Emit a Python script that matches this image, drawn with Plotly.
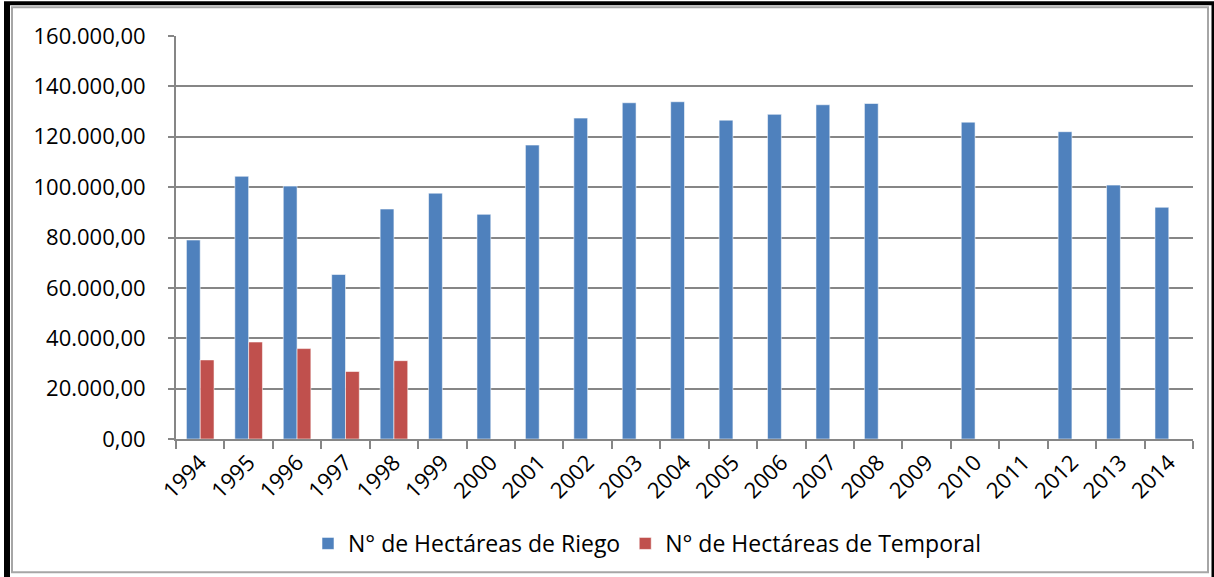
import plotly.graph_objects as go

# Data
years = [str(y) for y in range(1994, 2015)]
riego = [79000, 104300, 100400, 65300, 91300, 97600, 89200, 116700, 127400, 133500,
         133900, 126600, 128900, 132700, 133200, None, 125800, None, 122000, 100800, 92000]
temporal = [31400, 38500, 35900, 26800, 31100, None, None, None, None, None,
            None, None, None, None, None, None, None, None, None, None, None]

W, H = 1214, 577
ML, MR, MT, MB = 176, 21, 36, 136
PW, PH = W - ML - MR, H - MT - MB


def px(x):
    return (x - ML) / PW


def py(y):
    return (H - MB - y) / PH


FONT = "Open Sans"

fig = go.Figure()
fig.add_trace(go.Bar(
    x=years, y=riego, name="N° de Hectáreas de Riego",
    marker=dict(color="#4F81BD", line=dict(color="rgba(255,255,255,0.55)", width=1)),
))
fig.add_trace(go.Bar(
    x=years, y=temporal, name="N° de Hectáreas de Temporal",
    marker=dict(color="#C0504D", line=dict(color="rgba(255,255,255,0.55)", width=1)),
))

# frames around the chart
shapes = [
    dict(type="rect", xref="paper", yref="paper",
         x0=px(12), x1=px(1208), y0=py(575), y1=py(7),
         line=dict(color="#a6a6a6", width=2), layer="above"),
    dict(type="line", xref="paper", yref="paper",
         x0=px(7), x1=px(7), y0=py(3), y1=py(600),
         line=dict(color="black", width=6), layer="above"),
    dict(type="line", xref="paper", yref="paper",
         x0=px(4), x1=px(1220), y0=py(3), y1=py(3),
         line=dict(color="black", width=4), layer="above"),
    dict(type="line", xref="paper", yref="paper",
         x0=px(1213), x1=px(1213), y0=py(3), y1=py(600),
         line=dict(color="black", width=3), layer="above"),
]

fig.update_layout(
    width=W, height=H,
    margin=dict(l=ML, r=MR, t=MT, b=MB),
    paper_bgcolor="white", plot_bgcolor="white",
    barmode="group", bargap=0.43, bargroupgap=0,
    separators=",.",
    font=dict(family=FONT, size=22, color="black"),
    showlegend=True,
    legend=dict(orientation="h", x=px(308), xanchor="left", y=py(546), yanchor="middle",
                font=dict(family=FONT, size=23), itemwidth=30,
                bgcolor="rgba(0,0,0,0)"),
    shapes=shapes,
)
fig.update_xaxes(
    type="category", tickangle=-45, tickson="boundaries",
    ticks="outside", ticklen=8, tickcolor="#868686", tickwidth=1.5,
    showline=True, linecolor="#868686", linewidth=2,
    showgrid=False, tickfont=dict(family=FONT, size=22),
)
fig.update_yaxes(
    range=[0, 160000], dtick=20000, tickformat=",.2f",
    ticks="outside", ticklen=6, tickcolor="#868686", tickwidth=1.5,
    showline=True, linecolor="#868686", linewidth=2,
    showgrid=True, gridcolor="#868686", gridwidth=1.6,
    ticklabelstandoff=18, zeroline=False,
    tickfont=dict(family=FONT, size=22),
)

fig.write_html("out.html", config={"displayModeBar": False},
               post_script="document.body.style.margin='0';")
